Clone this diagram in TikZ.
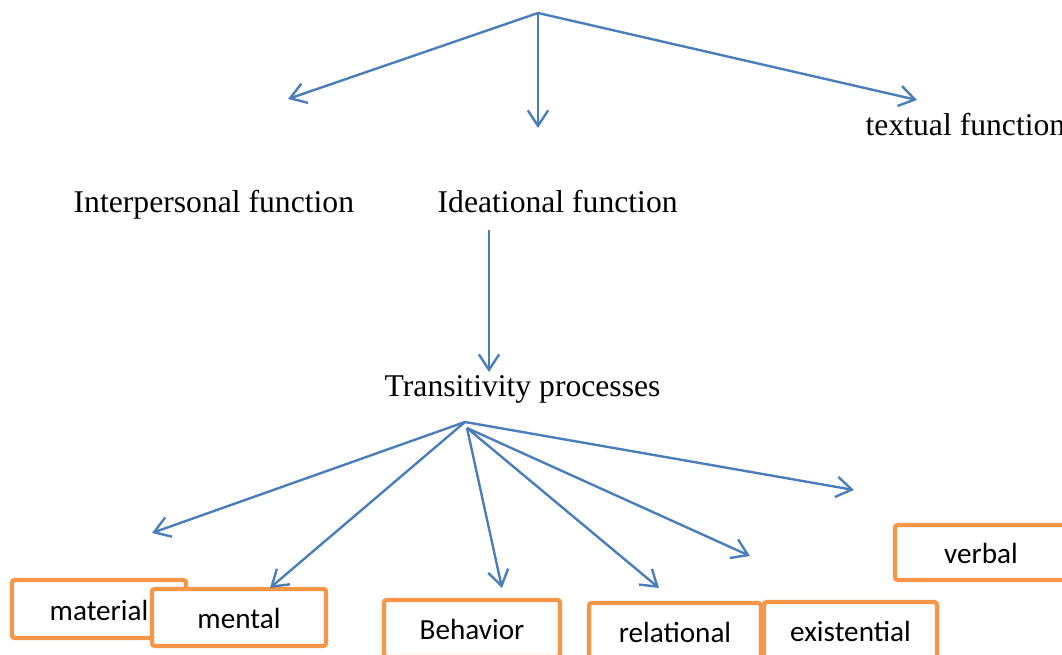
\documentclass[tikz,border=0pt]{standalone}
\usepackage{fontspec}
\setmainfont{Liberation Serif}
\newfontfamily\boxfont{Carlito}
\usetikzlibrary{arrows.meta}
\definecolor{lineblue}{HTML}{4A7EBB}
\definecolor{boxorange}{HTML}{F79646}

\begin{document}
\begin{tikzpicture}[x=0.01cm, y=-0.01cm,
  >={Straight Barb[length=4.4pt, width=5.8pt]},
  arr/.style={->, lineblue, line width=0.68pt},
  fnlabel/.style={anchor=base west, inner sep=0pt, font=\fontsize{9}{11}\selectfont},
  procbox/.style={draw=boxorange, line width=1.2pt, fill=white, rounded corners=0.8pt,
    inner sep=0pt, text height=6.5pt, text depth=0pt,
    font=\boxfont\fontsize{8.3}{10}\selectfont}]

  \clip (0,0) rectangle (1062,655);
  \useasboundingbox (0,0) rectangle (1062,655);

  % --- 1. 上段: 三つの機能 ---
  \node[fnlabel] (interp)  at (73,213)  {Interpersonal function};
  \node[fnlabel] (idea)    at (437,213) {Ideational function};
  \node[fnlabel] (textual) at (865,136) {textual function};

  \coordinate (topsrc)    at (538,13);
  \coordinate (tipinterp) at (288,99);
  \coordinate (tipidea)   at (538,128);
  \coordinate (tiptext)   at (917,100);

  \draw[arr] (topsrc) -- (tipinterp);
  \draw[arr] (topsrc) -- (tipidea);
  \draw[arr] (topsrc) -- (tiptext);

  % --- 2. Ideational -> Transitivity ---
  \node[fnlabel] (trans) at (384,397) {Transitivity processes};
  \coordinate (ideasrc)  at (489,230);
  \coordinate (tiptrans) at (489,372);
  \draw[arr] (ideasrc) -- (tiptrans);

  % --- 3. 過程の箱 (順に描いて重ねる) ---
  \node[procbox, minimum width=1.74cm, minimum height=0.58cm] (material) at (99,609)   {material};
  \node[procbox, minimum width=1.74cm, minimum height=0.57cm] (mental)   at (239,617.5) {mental};
  \node[procbox, minimum width=1.76cm, minimum height=0.57cm] (behav)    at (472,628.5) {Behavior};
  \node[procbox, minimum width=1.72cm, minimum height=0.57cm] (relat)    at (675,631.5) {relational};
  \node[procbox, minimum width=1.73cm, minimum height=0.57cm] (exist)    at (850.5,630.5) {existential};
  \node[procbox, minimum width=1.72cm, minimum height=0.55cm] (verbal)   at (981,552.5) {verbal};

  % --- 4. Transitivity から六本の矢印 ---
  \coordinate (transsrc)  at (465,422);
  \coordinate (transsrcb) at (467,428);
  \coordinate (tipmat)    at (152,533);
  \coordinate (tipment)   at (270,588);
  \coordinate (tipbehav)  at (502,588);
  \coordinate (tiprelat)  at (659,588);
  \coordinate (tipexist)  at (750,556);
  \coordinate (tipverbal) at (854,490);

  \draw[arr] (transsrc) -- (tipmat);
  \draw[arr] (transsrc) -- (tipment);
  \draw[arr] (transsrc) -- (tipverbal);
  \draw[arr] (transsrcb) -- (tipbehav);
  \draw[arr] (transsrcb) -- (tiprelat);
  \draw[arr] (transsrcb) -- (tipexist);

\end{tikzpicture}
\end{document}
